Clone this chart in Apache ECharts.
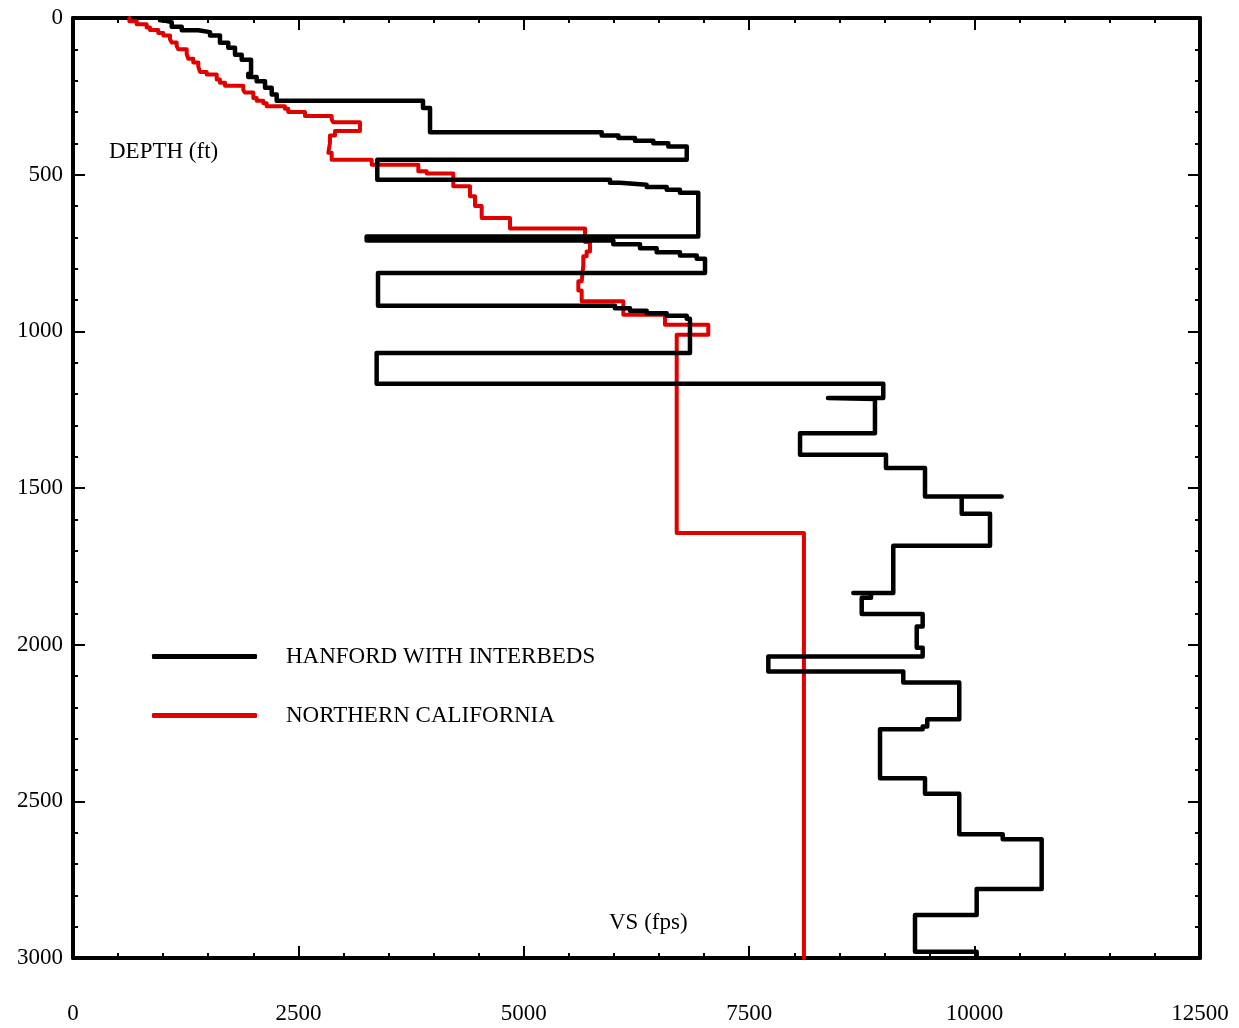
<!DOCTYPE html>
<html>
<head>
<meta charset="utf-8">
<script src="https://cdn.jsdelivr.net/npm/echarts@6/dist/echarts.min.js"></script>
<style>
html,body{margin:0;padding:0;background:#fff;}
#chart{width:1239px;height:1028px;}
</style>
</head>
<body>
<div id="chart"></div>
<script>
// Hanford with interbeds: layer velocity (fps) and layer top depth (ft)
const hanfordVs = [965,1002,1095,1206,1390,1520,1630,1722,1797,1871,1975,1944,2037,2130,2204,2259,3882,3960,
  5864,6050,6233,6437,6603,6807,3375,5956,6067,6363,6585,6732,6935,3257,5993,6289,6474,6732,6918,7010,
  3383,6011,6178,6363,6585,6807,6843,3368,8987,8374,8895,8064,9017,9450,10300,9857,10171,9098,8655,8851,
  8748,9424,9358,9424,7712,9209,9830,9475,9424,8951,9450,9830,10312,10744,10023,9339,10023];
const hanfordTop = [0,7,13,28,39,45,56,79,95,117,133,178,188,202,223,244,264,287,
  365,375,383,392,400,410,452,516,526,532,539,548,558,697,710,722,735,748,758,768,
  814,918,926,934,942,950,960,1069,1167,1213,1216,1325,1394,1436,1527,1527,1582,1684,1835,1835,
  1850,1902,1942,2010,2038,2086,2121,2238,2261,2270,2426,2476,2605,2621,2780,2863,2980];
const hanfordBase = 3000;

// Northern California: layer velocity (fps) and layer top depth (ft)
const norcalVs = [625,706,817,854,946,1002,1076,1095,1150,1168,1261,1279,1334,1390,1409,1483,1594,1630,1686,
  1889,1908,2000,2037,2111,2148,2351,2388,2573,2869,2887,3183,2906,2850,2832,2869,3313,3830,3923,4218,
  4403,4459,4533,4847,5679,5734,5697,5660,5642,5605,5642,6104,6566,7046,6696,8107];
const norcalTop = [0,10,20,30,38,48,56,68,78,90,100,115,130,142,155,172,180,196,207,
  216,230,238,255,264,272,282,290,300,313,324,333,361,375,399,430,452,468,489,496,
  537,569,600,638,672,715,745,760,790,840,870,904,947,979,1011,1644];
const norcalBase = 3000;

const xTicks = [0,2500,5000,7500,10000,12500];
const yTicks = [0,500,1000,1500,2000,2500,3000];
const seriesNames = ['HANFORD WITH INTERBEDS','NORTHERN CALIFORNIA'];

function profile(vs, tops, base){
  const pts = [];
  for (let i = 0; i < vs.length; i++) {
    const bottom = i + 1 < tops.length ? tops[i + 1] : base;
    pts.push([vs[i], tops[i]]);
    pts.push([vs[i], bottom]);
  }
  return pts;
}

const FONT = 'Liberation Serif';
const chart = echarts.init(document.getElementById('chart'), null, {renderer:'canvas'});

const tickCommon = {show:true, inside:true, length:12, lineStyle:{color:'#000', width:2}};
const minorCommon = {show:true, splitNumber:5, length:5, lineStyle:{color:'#000', width:2}};
const lineCommon = {show:true, onZero:false, lineStyle:{color:'#000', width:4}};

chart.setOption({
  animation:false,
  backgroundColor:'#fff',
  grid:{left:73, right:39, top:18, bottom:70, containLabel:false},
  xAxis:[
    {type:'value', position:'bottom', min:xTicks[0], max:xTicks[xTicks.length-1], interval:2500,
     axisLine:lineCommon, axisTick:tickCommon, minorTick:minorCommon, splitLine:{show:false},
     axisLabel:{show:true, margin:44, color:'#000', fontFamily:FONT, fontSize:23,
       formatter:v => xTicks.includes(v) ? String(v) : ''}},
    {type:'value', position:'top', min:xTicks[0], max:xTicks[xTicks.length-1], interval:2500,
     axisLine:lineCommon, axisTick:tickCommon, minorTick:minorCommon, splitLine:{show:false},
     axisLabel:{show:false}}
  ],
  yAxis:[
    {type:'value', position:'left', inverse:true, min:yTicks[0], max:yTicks[yTicks.length-1], interval:500,
     axisLine:lineCommon, axisTick:tickCommon, minorTick:minorCommon, splitLine:{show:false},
     axisLabel:{show:true, margin:10, color:'#000', fontFamily:FONT, fontSize:23,
       formatter:v => yTicks.includes(v) ? String(v) : ''}},
    {type:'value', position:'right', inverse:true, min:yTicks[0], max:yTicks[yTicks.length-1], interval:500,
     axisLine:lineCommon, axisTick:tickCommon, minorTick:minorCommon, splitLine:{show:false},
     axisLabel:{show:false}}
  ],
  legend:{
    orient:'vertical', left:147, top:640, itemWidth:105, itemHeight:5, itemGap:36,
    icon:'roundRect', data:seriesNames,
    textStyle:{color:'#000', fontFamily:FONT, fontSize:23, padding:[0,0,0,24]}
  },
  graphic:[
    {type:'text', left:109, top:140, style:{text:'DEPTH (ft)', fill:'#000', font:'23px "Liberation Serif"'}},
    {type:'text', left:609, top:911, style:{text:'VS (fps)', fill:'#000', font:'23px "Liberation Serif"'}}
  ],
  series:[
    {name:seriesNames[0], type:'line', xAxisIndex:0, yAxisIndex:0, showSymbol:false, symbol:'none',
     data:profile(hanfordVs, hanfordTop, hanfordBase), color:'#000',
     lineStyle:{color:'#000', width:4.5, join:'round', cap:'round'}, z:3},
    {name:seriesNames[1], type:'line', xAxisIndex:0, yAxisIndex:0, showSymbol:false, symbol:'none',
     data:profile(norcalVs, norcalTop, norcalBase), color:'#e00000',
     lineStyle:{color:'#e00000', width:4, join:'round', cap:'round'}, z:2}
  ]
});
</script>
</body>
</html>
